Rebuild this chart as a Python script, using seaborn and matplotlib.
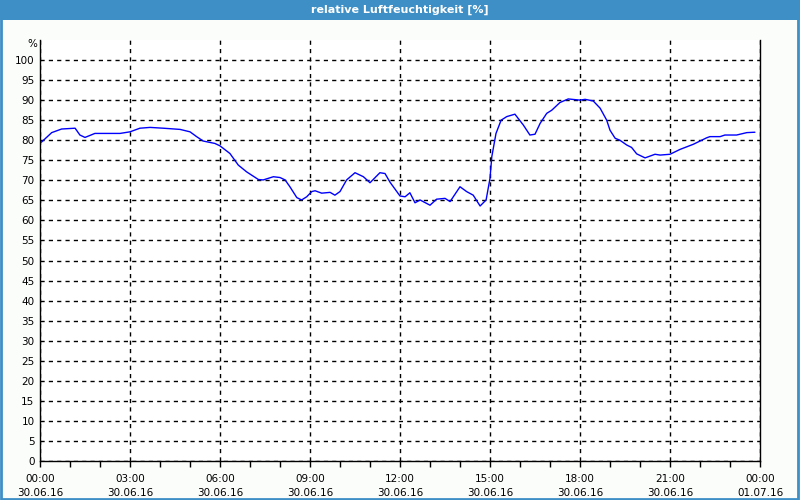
import numpy as np
import pandas as pd
import seaborn as sns
from matplotlib import pyplot as plt
from matplotlib.patches import Rectangle

# Stunden seit 30.06.16 00:00 und relative Luftfeuchtigkeit in %
hours = [0.0, 0.06, 0.39, 0.72, 1.17, 1.33, 1.5, 1.83, 2.67, 3.0, 3.33, 3.67, 4.11,
         4.67, 5.0, 5.22, 5.44, 5.83, 6.0, 6.33, 6.61, 6.89, 7.28, 7.44, 7.78, 8.0,
         8.17, 8.33, 8.56, 8.72, 8.89, 9.06, 9.17, 9.39, 9.67, 9.83, 10.0, 10.22,
         10.5, 10.78, 11.0, 11.33, 11.5, 11.67, 12.0, 12.17, 12.33, 12.5, 12.67,
         13.0, 13.22, 13.5, 13.67, 14.0, 14.22, 14.44, 14.67, 14.87, 15.0, 15.06,
         15.2, 15.37, 15.56, 15.83, 16.11, 16.33, 16.5, 16.67, 16.89, 17.06, 17.33,
         17.61, 18.0, 18.17, 18.44, 18.67, 18.89, 19.0, 19.17, 19.33, 19.56, 19.72,
         19.89, 20.17, 20.5, 20.67, 21.0, 21.33, 21.78, 22.22, 22.33, 22.67, 22.83,
         23.22, 23.56, 23.83]
humidity = [79.4, 79.6, 81.9, 82.8, 83.0, 81.3, 80.7, 81.7, 81.7, 82.1, 83.0, 83.2, 83.0,
            82.7, 82.1, 80.9, 79.8, 79.2, 78.6, 76.7, 73.8, 72.1, 70.2, 70.1, 70.9, 70.7,
            70.1, 68.4, 65.7, 65.1, 65.9, 67.2, 67.4, 66.8, 67.0, 66.3, 67.2, 70.1,
            71.9, 70.9, 69.4, 71.9, 71.7, 69.5, 66.1, 65.9, 66.9, 64.4, 65.1,
            63.8, 65.3, 65.5, 64.7, 68.4, 67.2, 66.3, 63.6, 65.1, 70.5, 75.9,
            81.7, 85.0, 85.9, 86.5, 83.8, 81.3, 81.5, 84.2, 86.7, 87.5, 89.4,
            90.3, 90.0, 90.2, 89.8, 88.0, 85.0, 82.5, 80.5, 80.0, 78.8, 78.2,
            76.6, 75.6, 76.5, 76.3, 76.5, 77.7, 79.0, 80.6, 80.9, 80.9, 81.3,
            81.3, 81.9, 82.0]

tick_hours = [0, 3, 6, 9, 12, 15, 18, 21, 24]
tick_labels = ["00:00\n30.06.16", "03:00\n30.06.16", "06:00\n30.06.16",
               "09:00\n30.06.16", "12:00\n30.06.16", "15:00\n30.06.16",
               "18:00\n30.06.16", "21:00\n30.06.16", "00:00\n01.07.16"]
y_ticks = list(range(0, 101, 5))

df = pd.DataFrame({"stunde": hours, "feuchte": humidity})

sns.set_style("white")
plt.rcParams['font.family'] = ['DejaVu Sans']

fig = plt.figure(figsize=(8, 5), dpi=100, facecolor="#fbfdfb")
blue = "#3d8fc6"
# Titelleiste und Rahmen
fig.patches.append(Rectangle((0, 0.96), 1, 0.04, transform=fig.transFigure,
                             facecolor=blue, edgecolor="none", zorder=0))
fig.patches.append(Rectangle((0.001, 0.003), 0.997, 0.99, transform=fig.transFigure,
                             facecolor="none", edgecolor=blue, linewidth=2, zorder=0))
fig.text(0.5, 0.98, "relative Luftfeuchtigkeit [%]", color="white", ha="center",
         va="center", fontsize=8, fontweight="bold")

ax = fig.add_axes([0.05, 0.078, 0.90, 0.842])
ax.set_facecolor("white")
sns.lineplot(data=df, x="stunde", y="feuchte", ax=ax, color="#0000ff", linewidth=1)

ax.set_xlim(0, 24)
ax.set_ylim(0, 105)
ax.set_xticks(tick_hours)
ax.set_xticklabels(tick_labels, fontsize=7.5, linespacing=1.6)
ax.set_xticks(range(0, 25), minor=True)
ax.set_yticks(y_ticks)
ax.set_yticklabels([str(v) for v in y_ticks], fontsize=7.5)
ax.tick_params(axis="x", which="both", direction="out", length=4, width=1,
               color="black", labelcolor="black", bottom=True, pad=5)
ax.tick_params(axis="y", length=0, pad=4, labelcolor="black")
ax.set_xlabel("")
ax.set_ylabel("")

ax.grid(True, which="major", color="black", linestyle=(0, (3, 3)), linewidth=1)
for side in ["left", "bottom", "right"]:
    ax.spines[side].set_visible(True)
    ax.spines[side].set_color("black")
    ax.spines[side].set_linewidth(1)
ax.spines["top"].set_visible(False)

ax.text(-0.1, 104, "%", ha="right", va="center", fontsize=7.5, color="black",
        transform=ax.transData)

fig.savefig("out.png", dpi=100, facecolor=fig.get_facecolor())
